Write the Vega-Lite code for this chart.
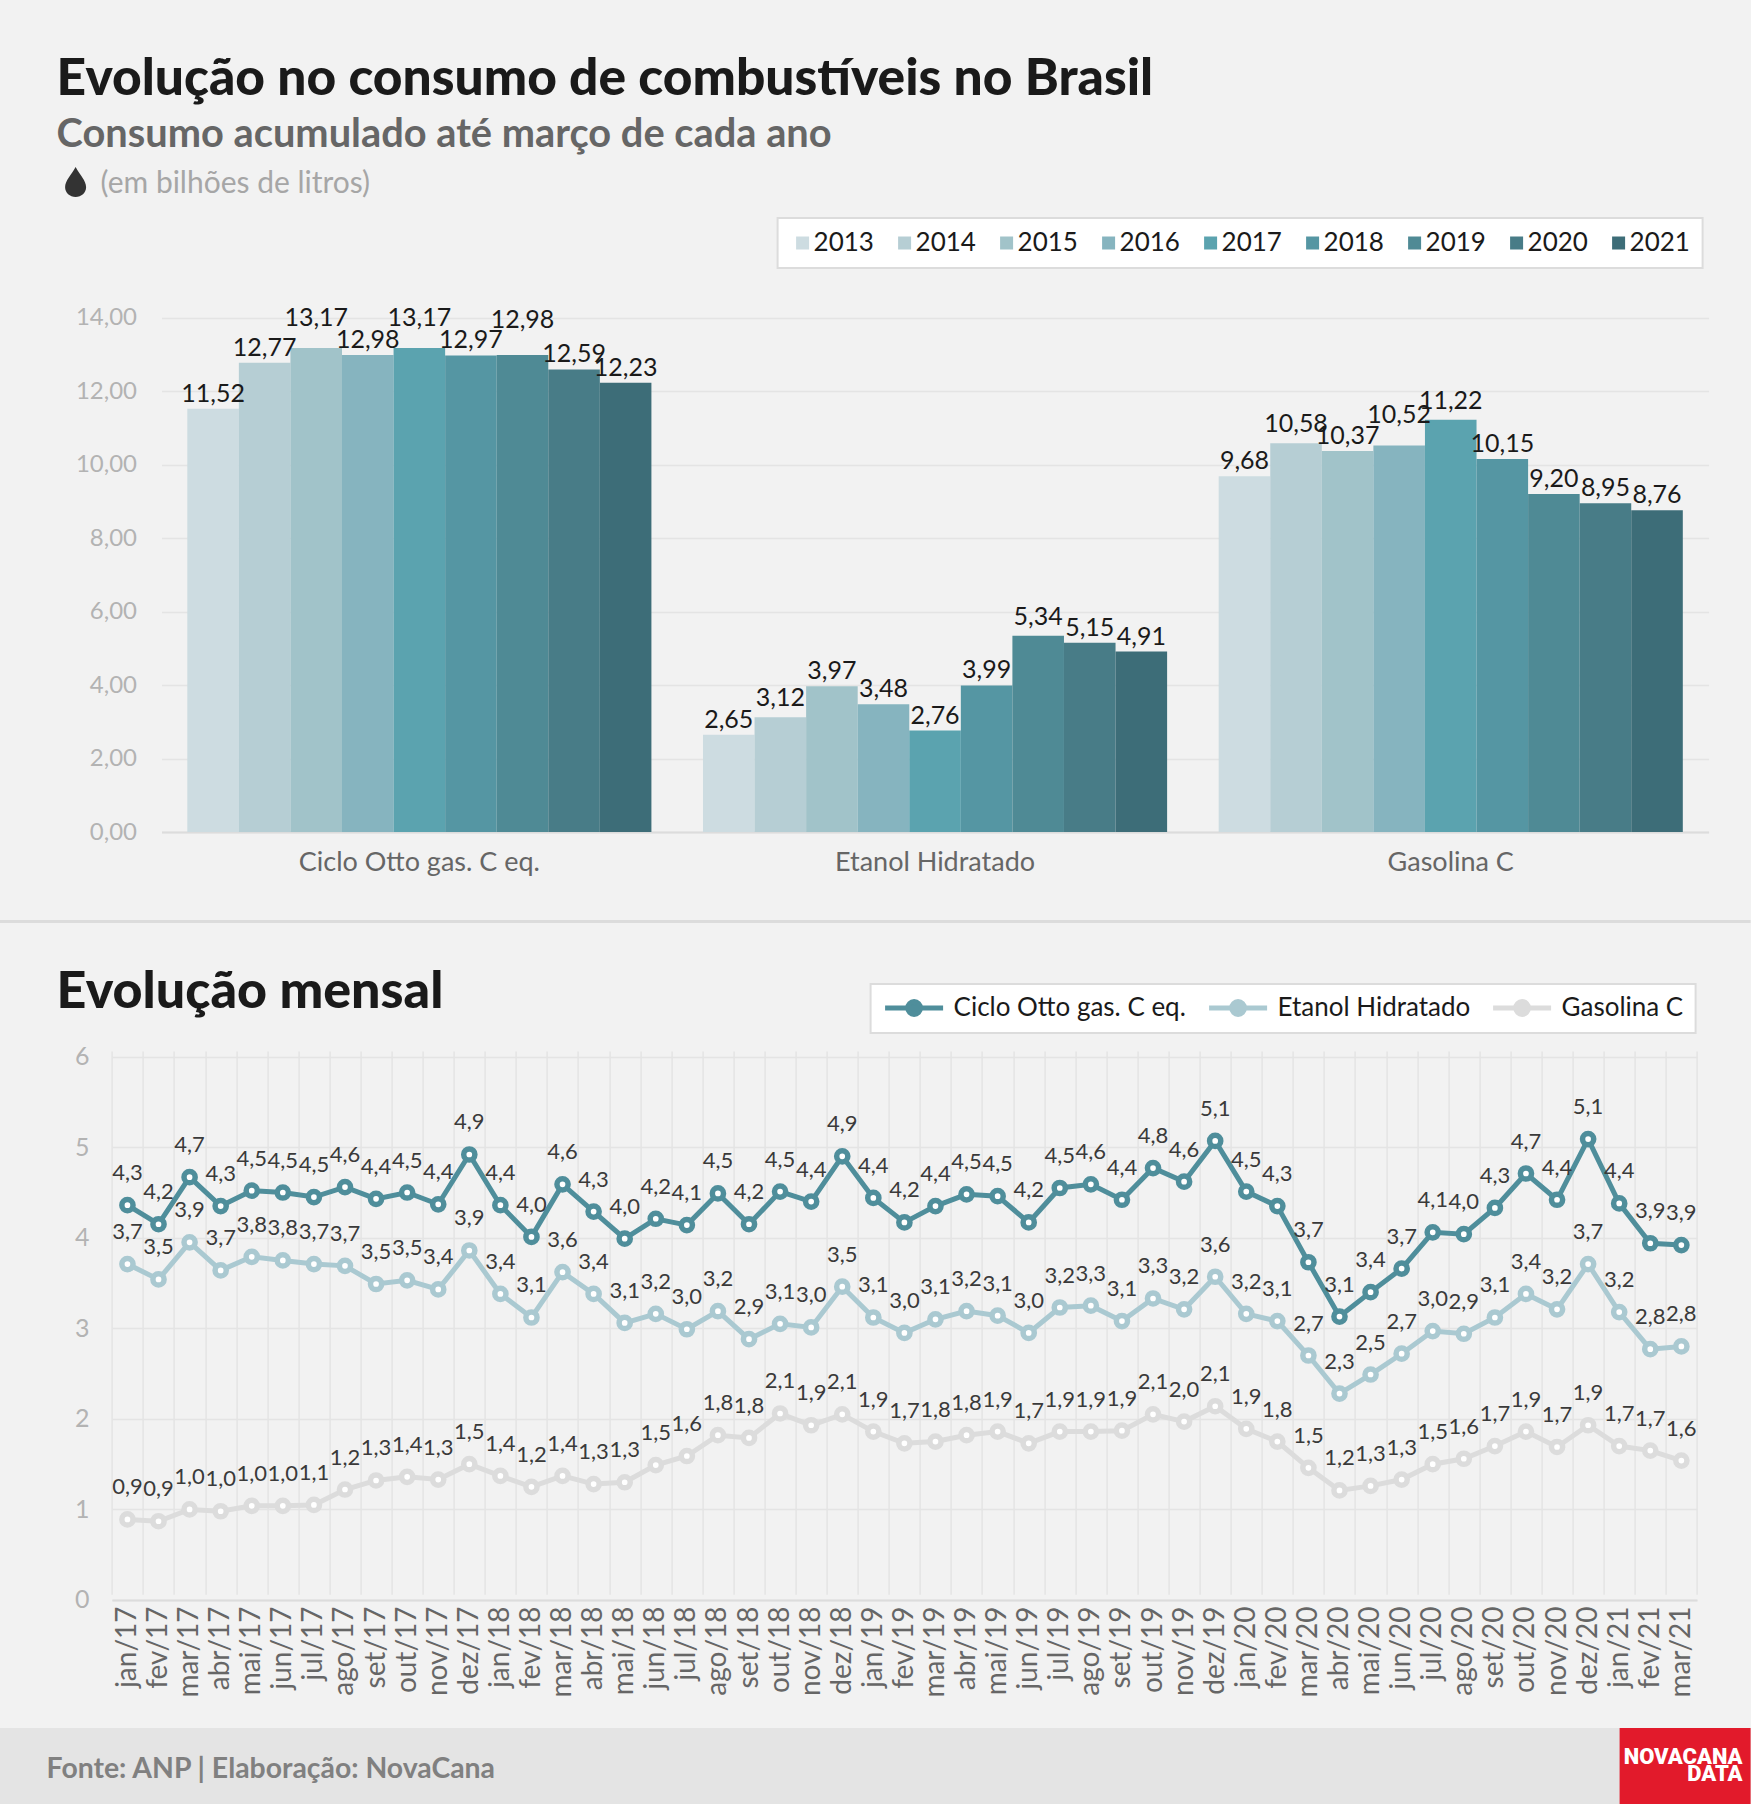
{
  "$schema": "https://vega.github.io/schema/vega-lite/v6.json",
  "description": "Evolução no consumo de combustíveis no Brasil",
  "background": "#f2f2f2",
  "padding": {"left": -14.4, "top": 0, "right": 0, "bottom": 0},
  "spacing": 0,
  "bounds": "flush",
  "config": {
    "font": "Lato",
    "view": {"stroke": null},
    "axis": {"labelFont": "Lato", "titleFont": "Lato", "minExtent": 0, "labelLimit": 500},
    "legend": {"labelFont": "Lato", "strokeWidth": 2, "labelLimit": 400}
  },
  "resolve": {"scale": {"color": "independent"}},
  "vconcat": [
    {
      "width": 1751,
      "height": 205,
      "title": {
        "text": "Evolução no consumo de combustíveis no Brasil",
        "subtitle": "Consumo acumulado até março de cada ano",
        "anchor": "start",
        "frame": "group",
        "offset": 0,
        "dx": 57,
        "dy": 155,
        "font": "Lato",
        "fontSize": 51.5,
        "fontWeight": 900,
        "color": "#1a1a1a",
        "subtitleFont": "Lato",
        "subtitleFontSize": 39.8,
        "subtitleFontWeight": 700,
        "subtitleColor": "#666666",
        "subtitlePadding": 11
      },
      "layer": [
        {
          "data": {"values": [{"item": "gota"}]},
          "mark": {
            "type": "point",
            "shape": "M0,-1C0.3,-0.45,0.7,-0.1,0.7,0.35A0.7,0.65,0,1,1,-0.7,0.35C-0.7,-0.1,-0.3,-0.45,0,-1Z",
            "filled": true,
            "size": 900,
            "opacity": 1,
            "color": "#333333"
          },
          "encoding": {
            "x": {"field": "item", "type": "nominal", "axis": null, "scale": {"type": "point", "domain": ["gota"], "range": [76, 76]}},
            "y": {"field": "item", "type": "nominal", "axis": null, "scale": {"type": "point", "domain": ["gota"], "range": [182, 182]}}
          }
        },
        {
          "data": {"values": [{"nota": "(em bilhões de litros)"}]},
          "mark": {"type": "text", "align": "left", "baseline": "middle", "fontSize": 30, "color": "#a6a6a6", "font": "Lato"},
          "encoding": {
            "text": {"field": "nota"},
            "x": {"field": "nota", "type": "nominal", "axis": null, "scale": {"type": "point", "range": [101, 101]}},
            "y": {"field": "nota", "type": "nominal", "axis": null, "scale": {"type": "point", "range": [184, 184]}}
          }
        }
      ],
      "resolve": {"scale": {"x": "independent", "y": "independent"}}
    },
    {
      "width": 1751,
      "height": 715,
      "data": {"values": [
        {"produto": "Ciclo Otto gas. C eq.", "ano": "2013", "valor": 11.52, "rotulo": "11,52"},
        {"produto": "Ciclo Otto gas. C eq.", "ano": "2014", "valor": 12.77, "rotulo": "12,77"},
        {"produto": "Ciclo Otto gas. C eq.", "ano": "2015", "valor": 13.17, "rotulo": "13,17"},
        {"produto": "Ciclo Otto gas. C eq.", "ano": "2016", "valor": 12.98, "rotulo": "12,98"},
        {"produto": "Ciclo Otto gas. C eq.", "ano": "2017", "valor": 13.17, "rotulo": "13,17"},
        {"produto": "Ciclo Otto gas. C eq.", "ano": "2018", "valor": 12.97, "rotulo": "12,97"},
        {"produto": "Ciclo Otto gas. C eq.", "ano": "2019", "valor": 12.98, "rotulo": "12,98"},
        {"produto": "Ciclo Otto gas. C eq.", "ano": "2020", "valor": 12.59, "rotulo": "12,59"},
        {"produto": "Ciclo Otto gas. C eq.", "ano": "2021", "valor": 12.23, "rotulo": "12,23"},
        {"produto": "Etanol Hidratado", "ano": "2013", "valor": 2.65, "rotulo": "2,65"},
        {"produto": "Etanol Hidratado", "ano": "2014", "valor": 3.12, "rotulo": "3,12"},
        {"produto": "Etanol Hidratado", "ano": "2015", "valor": 3.97, "rotulo": "3,97"},
        {"produto": "Etanol Hidratado", "ano": "2016", "valor": 3.48, "rotulo": "3,48"},
        {"produto": "Etanol Hidratado", "ano": "2017", "valor": 2.76, "rotulo": "2,76"},
        {"produto": "Etanol Hidratado", "ano": "2018", "valor": 3.99, "rotulo": "3,99"},
        {"produto": "Etanol Hidratado", "ano": "2019", "valor": 5.34, "rotulo": "5,34"},
        {"produto": "Etanol Hidratado", "ano": "2020", "valor": 5.15, "rotulo": "5,15"},
        {"produto": "Etanol Hidratado", "ano": "2021", "valor": 4.91, "rotulo": "4,91"},
        {"produto": "Gasolina C", "ano": "2013", "valor": 9.68, "rotulo": "9,68"},
        {"produto": "Gasolina C", "ano": "2014", "valor": 10.58, "rotulo": "10,58"},
        {"produto": "Gasolina C", "ano": "2015", "valor": 10.37, "rotulo": "10,37"},
        {"produto": "Gasolina C", "ano": "2016", "valor": 10.52, "rotulo": "10,52"},
        {"produto": "Gasolina C", "ano": "2017", "valor": 11.22, "rotulo": "11,22"},
        {"produto": "Gasolina C", "ano": "2018", "valor": 10.15, "rotulo": "10,15"},
        {"produto": "Gasolina C", "ano": "2019", "valor": 9.20, "rotulo": "9,20"},
        {"produto": "Gasolina C", "ano": "2020", "valor": 8.95, "rotulo": "8,95"},
        {"produto": "Gasolina C", "ano": "2021", "valor": 8.76, "rotulo": "8,76"}
      ]},
      "encoding": {
        "x": {
          "field": "produto",
          "type": "nominal",
          "title": null,
          "scale": {"range": [161.9, 1709], "paddingInner": 0.1, "paddingOuter": 0.05},
          "axis": {
            "offset": -88,
            "labelAngle": 0,
            "labelFontSize": 27,
            "labelColor": "#666666",
            "labelPadding": 17,
            "ticks": false,
            "domainColor": "#dcdcdc",
            "domainWidth": 2,
            "grid": false
          }
        },
        "xOffset": {"field": "ano", "type": "nominal"},
        "y": {
          "field": "valor",
          "type": "quantitative",
          "title": null,
          "scale": {"domain": [0, 14], "nice": false, "range": [627, 112.6]},
          "axis": {
            "offset": -161.9,
            "values": [0, 2, 4, 6, 8, 10, 12, 14],
            "labelExpr": "replace(format(datum.value,'.2f'),'.',',')",
            "labelFontSize": 24,
            "labelColor": "#b3b3b3",
            "labelPadding": 25,
            "ticks": false,
            "domain": false,
            "gridColor": "#e4e4e4",
            "gridWidth": 1.5
          }
        }
      },
      "layer": [
        {
          "mark": {"type": "bar"},
          "encoding": {
            "color": {
              "field": "ano",
              "type": "nominal",
              "scale": {"range": ["#cddce1", "#b6ced4", "#a1c3c9", "#86b4bf", "#5ba3af", "#5596a3", "#4f8a95", "#487c87", "#3d6d78"]},
              "legend": {
                "title": null,
                "orient": "none",
                "legendX": 778,
                "legendY": 13,
                "direction": "horizontal",
                "columns": 9,
                "fillColor": "#ffffff",
                "strokeColor": "#dcdcdc",
                "padding": 12,
                "symbolType": "square",
                "symbolSize": 169,
                "symbolStrokeWidth": 0,
                "labelFontSize": 26,
                "labelColor": "#1a1a1a",
                "labelOffset": -2,
                "columnPadding": 17
              }
            }
          }
        },
        {
          "transform": [{"filter": "indexof(['13,17','10,52','10,58','11,22','3,12','5,34'], datum.rotulo) < 0 && !(datum.rotulo == '12,98' && datum.ano == '2019')"}],
          "mark": {"type": "text", "baseline": "alphabetic", "dy": -7, "fontSize": 25, "color": "#1a1a1a"},
          "encoding": {"text": {"field": "rotulo"}}
        },
        {
          "transform": [{"filter": "indexof(['10,58','11,22','3,12','5,34'], datum.rotulo) >= 0"}],
          "mark": {"type": "text", "baseline": "alphabetic", "dy": -11, "fontSize": 25, "color": "#1a1a1a"},
          "encoding": {"text": {"field": "rotulo"}}
        },
        {
          "transform": [{"filter": "indexof(['13,17','10,52'], datum.rotulo) >= 0"}],
          "mark": {"type": "text", "baseline": "alphabetic", "dy": -22, "fontSize": 25, "color": "#1a1a1a"},
          "encoding": {"text": {"field": "rotulo"}}
        },
        {
          "transform": [{"filter": "datum.rotulo == '12,98' && datum.ano == '2019'"}],
          "mark": {"type": "text", "baseline": "alphabetic", "dy": -27, "fontSize": 25, "color": "#1a1a1a"},
          "encoding": {"text": {"field": "rotulo"}}
        }
      ]
    },
    {
      "width": 1751,
      "height": 3,
      "data": {"values": [{"item": "separador"}]},
      "mark": {"type": "rect", "color": "#dcdcdc"}
    },
    {
      "width": 1751,
      "height": 805,
      "title": {
        "text": "Evolução mensal",
        "anchor": "start",
        "frame": "group",
        "offset": 0,
        "dx": 57,
        "dy": 96,
        "font": "Lato",
        "fontSize": 52,
        "fontWeight": 900,
        "color": "#1a1a1a"
      },
      "data": {"values": [
        {"mes": "jan/17", "serie": "Ciclo Otto gas. C eq.", "valor": 4.36, "rotulo": "4,3"},
        {"mes": "fev/17", "serie": "Ciclo Otto gas. C eq.", "valor": 4.15, "rotulo": "4,2"},
        {"mes": "mar/17", "serie": "Ciclo Otto gas. C eq.", "valor": 4.67, "rotulo": "4,7"},
        {"mes": "abr/17", "serie": "Ciclo Otto gas. C eq.", "valor": 4.35, "rotulo": "4,3"},
        {"mes": "mai/17", "serie": "Ciclo Otto gas. C eq.", "valor": 4.52, "rotulo": "4,5"},
        {"mes": "jun/17", "serie": "Ciclo Otto gas. C eq.", "valor": 4.50, "rotulo": "4,5"},
        {"mes": "jul/17", "serie": "Ciclo Otto gas. C eq.", "valor": 4.45, "rotulo": "4,5"},
        {"mes": "ago/17", "serie": "Ciclo Otto gas. C eq.", "valor": 4.56, "rotulo": "4,6"},
        {"mes": "set/17", "serie": "Ciclo Otto gas. C eq.", "valor": 4.43, "rotulo": "4,4"},
        {"mes": "out/17", "serie": "Ciclo Otto gas. C eq.", "valor": 4.50, "rotulo": "4,5"},
        {"mes": "nov/17", "serie": "Ciclo Otto gas. C eq.", "valor": 4.37, "rotulo": "4,4"},
        {"mes": "dez/17", "serie": "Ciclo Otto gas. C eq.", "valor": 4.92, "rotulo": "4,9"},
        {"mes": "jan/18", "serie": "Ciclo Otto gas. C eq.", "valor": 4.36, "rotulo": "4,4"},
        {"mes": "fev/18", "serie": "Ciclo Otto gas. C eq.", "valor": 4.01, "rotulo": "4,0"},
        {"mes": "mar/18", "serie": "Ciclo Otto gas. C eq.", "valor": 4.59, "rotulo": "4,6"},
        {"mes": "abr/18", "serie": "Ciclo Otto gas. C eq.", "valor": 4.29, "rotulo": "4,3"},
        {"mes": "mai/18", "serie": "Ciclo Otto gas. C eq.", "valor": 3.99, "rotulo": "4,0"},
        {"mes": "jun/18", "serie": "Ciclo Otto gas. C eq.", "valor": 4.21, "rotulo": "4,2"},
        {"mes": "jul/18", "serie": "Ciclo Otto gas. C eq.", "valor": 4.14, "rotulo": "4,1"},
        {"mes": "ago/18", "serie": "Ciclo Otto gas. C eq.", "valor": 4.49, "rotulo": "4,5"},
        {"mes": "set/18", "serie": "Ciclo Otto gas. C eq.", "valor": 4.15, "rotulo": "4,2"},
        {"mes": "out/18", "serie": "Ciclo Otto gas. C eq.", "valor": 4.51, "rotulo": "4,5"},
        {"mes": "nov/18", "serie": "Ciclo Otto gas. C eq.", "valor": 4.40, "rotulo": "4,4"},
        {"mes": "dez/18", "serie": "Ciclo Otto gas. C eq.", "valor": 4.90, "rotulo": "4,9"},
        {"mes": "jan/19", "serie": "Ciclo Otto gas. C eq.", "valor": 4.44, "rotulo": "4,4"},
        {"mes": "fev/19", "serie": "Ciclo Otto gas. C eq.", "valor": 4.17, "rotulo": "4,2"},
        {"mes": "mar/19", "serie": "Ciclo Otto gas. C eq.", "valor": 4.35, "rotulo": "4,4"},
        {"mes": "abr/19", "serie": "Ciclo Otto gas. C eq.", "valor": 4.48, "rotulo": "4,5"},
        {"mes": "mai/19", "serie": "Ciclo Otto gas. C eq.", "valor": 4.46, "rotulo": "4,5"},
        {"mes": "jun/19", "serie": "Ciclo Otto gas. C eq.", "valor": 4.17, "rotulo": "4,2"},
        {"mes": "jul/19", "serie": "Ciclo Otto gas. C eq.", "valor": 4.55, "rotulo": "4,5"},
        {"mes": "ago/19", "serie": "Ciclo Otto gas. C eq.", "valor": 4.59, "rotulo": "4,6"},
        {"mes": "set/19", "serie": "Ciclo Otto gas. C eq.", "valor": 4.42, "rotulo": "4,4"},
        {"mes": "out/19", "serie": "Ciclo Otto gas. C eq.", "valor": 4.77, "rotulo": "4,8"},
        {"mes": "nov/19", "serie": "Ciclo Otto gas. C eq.", "valor": 4.62, "rotulo": "4,6"},
        {"mes": "dez/19", "serie": "Ciclo Otto gas. C eq.", "valor": 5.07, "rotulo": "5,1"},
        {"mes": "jan/20", "serie": "Ciclo Otto gas. C eq.", "valor": 4.51, "rotulo": "4,5"},
        {"mes": "fev/20", "serie": "Ciclo Otto gas. C eq.", "valor": 4.35, "rotulo": "4,3"},
        {"mes": "mar/20", "serie": "Ciclo Otto gas. C eq.", "valor": 3.73, "rotulo": "3,7"},
        {"mes": "abr/20", "serie": "Ciclo Otto gas. C eq.", "valor": 3.13, "rotulo": "3,1"},
        {"mes": "mai/20", "serie": "Ciclo Otto gas. C eq.", "valor": 3.40, "rotulo": "3,4"},
        {"mes": "jun/20", "serie": "Ciclo Otto gas. C eq.", "valor": 3.66, "rotulo": "3,7"},
        {"mes": "jul/20", "serie": "Ciclo Otto gas. C eq.", "valor": 4.06, "rotulo": "4,1"},
        {"mes": "ago/20", "serie": "Ciclo Otto gas. C eq.", "valor": 4.04, "rotulo": "4,0"},
        {"mes": "set/20", "serie": "Ciclo Otto gas. C eq.", "valor": 4.33, "rotulo": "4,3"},
        {"mes": "out/20", "serie": "Ciclo Otto gas. C eq.", "valor": 4.71, "rotulo": "4,7"},
        {"mes": "nov/20", "serie": "Ciclo Otto gas. C eq.", "valor": 4.42, "rotulo": "4,4"},
        {"mes": "dez/20", "serie": "Ciclo Otto gas. C eq.", "valor": 5.09, "rotulo": "5,1"},
        {"mes": "jan/21", "serie": "Ciclo Otto gas. C eq.", "valor": 4.38, "rotulo": "4,4"},
        {"mes": "fev/21", "serie": "Ciclo Otto gas. C eq.", "valor": 3.94, "rotulo": "3,9"},
        {"mes": "mar/21", "serie": "Ciclo Otto gas. C eq.", "valor": 3.92, "rotulo": "3,9"},
        {"mes": "jan/17", "serie": "Etanol Hidratado", "valor": 3.71, "rotulo": "3,7"},
        {"mes": "fev/17", "serie": "Etanol Hidratado", "valor": 3.54, "rotulo": "3,5"},
        {"mes": "mar/17", "serie": "Etanol Hidratado", "valor": 3.95, "rotulo": "3,9"},
        {"mes": "abr/17", "serie": "Etanol Hidratado", "valor": 3.64, "rotulo": "3,7"},
        {"mes": "mai/17", "serie": "Etanol Hidratado", "valor": 3.79, "rotulo": "3,8"},
        {"mes": "jun/17", "serie": "Etanol Hidratado", "valor": 3.75, "rotulo": "3,8"},
        {"mes": "jul/17", "serie": "Etanol Hidratado", "valor": 3.71, "rotulo": "3,7"},
        {"mes": "ago/17", "serie": "Etanol Hidratado", "valor": 3.69, "rotulo": "3,7"},
        {"mes": "set/17", "serie": "Etanol Hidratado", "valor": 3.49, "rotulo": "3,5"},
        {"mes": "out/17", "serie": "Etanol Hidratado", "valor": 3.53, "rotulo": "3,5"},
        {"mes": "nov/17", "serie": "Etanol Hidratado", "valor": 3.43, "rotulo": "3,4"},
        {"mes": "dez/17", "serie": "Etanol Hidratado", "valor": 3.86, "rotulo": "3,9"},
        {"mes": "jan/18", "serie": "Etanol Hidratado", "valor": 3.38, "rotulo": "3,4"},
        {"mes": "fev/18", "serie": "Etanol Hidratado", "valor": 3.12, "rotulo": "3,1"},
        {"mes": "mar/18", "serie": "Etanol Hidratado", "valor": 3.62, "rotulo": "3,6"},
        {"mes": "abr/18", "serie": "Etanol Hidratado", "valor": 3.38, "rotulo": "3,4"},
        {"mes": "mai/18", "serie": "Etanol Hidratado", "valor": 3.06, "rotulo": "3,1"},
        {"mes": "jun/18", "serie": "Etanol Hidratado", "valor": 3.16, "rotulo": "3,2"},
        {"mes": "jul/18", "serie": "Etanol Hidratado", "valor": 2.99, "rotulo": "3,0"},
        {"mes": "ago/18", "serie": "Etanol Hidratado", "valor": 3.19, "rotulo": "3,2"},
        {"mes": "set/18", "serie": "Etanol Hidratado", "valor": 2.88, "rotulo": "2,9"},
        {"mes": "out/18", "serie": "Etanol Hidratado", "valor": 3.05, "rotulo": "3,1"},
        {"mes": "nov/18", "serie": "Etanol Hidratado", "valor": 3.01, "rotulo": "3,0"},
        {"mes": "dez/18", "serie": "Etanol Hidratado", "valor": 3.46, "rotulo": "3,5"},
        {"mes": "jan/19", "serie": "Etanol Hidratado", "valor": 3.12, "rotulo": "3,1"},
        {"mes": "fev/19", "serie": "Etanol Hidratado", "valor": 2.95, "rotulo": "3,0"},
        {"mes": "mar/19", "serie": "Etanol Hidratado", "valor": 3.10, "rotulo": "3,1"},
        {"mes": "abr/19", "serie": "Etanol Hidratado", "valor": 3.19, "rotulo": "3,2"},
        {"mes": "mai/19", "serie": "Etanol Hidratado", "valor": 3.14, "rotulo": "3,1"},
        {"mes": "jun/19", "serie": "Etanol Hidratado", "valor": 2.95, "rotulo": "3,0"},
        {"mes": "jul/19", "serie": "Etanol Hidratado", "valor": 3.23, "rotulo": "3,2"},
        {"mes": "ago/19", "serie": "Etanol Hidratado", "valor": 3.25, "rotulo": "3,3"},
        {"mes": "set/19", "serie": "Etanol Hidratado", "valor": 3.08, "rotulo": "3,1"},
        {"mes": "out/19", "serie": "Etanol Hidratado", "valor": 3.33, "rotulo": "3,3"},
        {"mes": "nov/19", "serie": "Etanol Hidratado", "valor": 3.21, "rotulo": "3,2"},
        {"mes": "dez/19", "serie": "Etanol Hidratado", "valor": 3.57, "rotulo": "3,6"},
        {"mes": "jan/20", "serie": "Etanol Hidratado", "valor": 3.16, "rotulo": "3,2"},
        {"mes": "fev/20", "serie": "Etanol Hidratado", "valor": 3.08, "rotulo": "3,1"},
        {"mes": "mar/20", "serie": "Etanol Hidratado", "valor": 2.70, "rotulo": "2,7"},
        {"mes": "abr/20", "serie": "Etanol Hidratado", "valor": 2.28, "rotulo": "2,3"},
        {"mes": "mai/20", "serie": "Etanol Hidratado", "valor": 2.49, "rotulo": "2,5"},
        {"mes": "jun/20", "serie": "Etanol Hidratado", "valor": 2.72, "rotulo": "2,7"},
        {"mes": "jul/20", "serie": "Etanol Hidratado", "valor": 2.97, "rotulo": "3,0"},
        {"mes": "ago/20", "serie": "Etanol Hidratado", "valor": 2.94, "rotulo": "2,9"},
        {"mes": "set/20", "serie": "Etanol Hidratado", "valor": 3.12, "rotulo": "3,1"},
        {"mes": "out/20", "serie": "Etanol Hidratado", "valor": 3.38, "rotulo": "3,4"},
        {"mes": "nov/20", "serie": "Etanol Hidratado", "valor": 3.21, "rotulo": "3,2"},
        {"mes": "dez/20", "serie": "Etanol Hidratado", "valor": 3.71, "rotulo": "3,7"},
        {"mes": "jan/21", "serie": "Etanol Hidratado", "valor": 3.18, "rotulo": "3,2"},
        {"mes": "fev/21", "serie": "Etanol Hidratado", "valor": 2.77, "rotulo": "2,8"},
        {"mes": "mar/21", "serie": "Etanol Hidratado", "valor": 2.80, "rotulo": "2,8"},
        {"mes": "jan/17", "serie": "Gasolina C", "valor": 0.89, "rotulo": "0,9"},
        {"mes": "fev/17", "serie": "Gasolina C", "valor": 0.87, "rotulo": "0,9"},
        {"mes": "mar/17", "serie": "Gasolina C", "valor": 1.00, "rotulo": "1,0"},
        {"mes": "abr/17", "serie": "Gasolina C", "valor": 0.98, "rotulo": "1,0"},
        {"mes": "mai/17", "serie": "Gasolina C", "valor": 1.04, "rotulo": "1,0"},
        {"mes": "jun/17", "serie": "Gasolina C", "valor": 1.04, "rotulo": "1,0"},
        {"mes": "jul/17", "serie": "Gasolina C", "valor": 1.05, "rotulo": "1,1"},
        {"mes": "ago/17", "serie": "Gasolina C", "valor": 1.22, "rotulo": "1,2"},
        {"mes": "set/17", "serie": "Gasolina C", "valor": 1.32, "rotulo": "1,3"},
        {"mes": "out/17", "serie": "Gasolina C", "valor": 1.36, "rotulo": "1,4"},
        {"mes": "nov/17", "serie": "Gasolina C", "valor": 1.33, "rotulo": "1,3"},
        {"mes": "dez/17", "serie": "Gasolina C", "valor": 1.50, "rotulo": "1,5"},
        {"mes": "jan/18", "serie": "Gasolina C", "valor": 1.37, "rotulo": "1,4"},
        {"mes": "fev/18", "serie": "Gasolina C", "valor": 1.25, "rotulo": "1,2"},
        {"mes": "mar/18", "serie": "Gasolina C", "valor": 1.37, "rotulo": "1,4"},
        {"mes": "abr/18", "serie": "Gasolina C", "valor": 1.28, "rotulo": "1,3"},
        {"mes": "mai/18", "serie": "Gasolina C", "valor": 1.30, "rotulo": "1,3"},
        {"mes": "jun/18", "serie": "Gasolina C", "valor": 1.49, "rotulo": "1,5"},
        {"mes": "jul/18", "serie": "Gasolina C", "valor": 1.59, "rotulo": "1,6"},
        {"mes": "ago/18", "serie": "Gasolina C", "valor": 1.82, "rotulo": "1,8"},
        {"mes": "set/18", "serie": "Gasolina C", "valor": 1.79, "rotulo": "1,8"},
        {"mes": "out/18", "serie": "Gasolina C", "valor": 2.06, "rotulo": "2,1"},
        {"mes": "nov/18", "serie": "Gasolina C", "valor": 1.93, "rotulo": "1,9"},
        {"mes": "dez/18", "serie": "Gasolina C", "valor": 2.05, "rotulo": "2,1"},
        {"mes": "jan/19", "serie": "Gasolina C", "valor": 1.86, "rotulo": "1,9"},
        {"mes": "fev/19", "serie": "Gasolina C", "valor": 1.73, "rotulo": "1,7"},
        {"mes": "mar/19", "serie": "Gasolina C", "valor": 1.75, "rotulo": "1,8"},
        {"mes": "abr/19", "serie": "Gasolina C", "valor": 1.82, "rotulo": "1,8"},
        {"mes": "mai/19", "serie": "Gasolina C", "valor": 1.86, "rotulo": "1,9"},
        {"mes": "jun/19", "serie": "Gasolina C", "valor": 1.73, "rotulo": "1,7"},
        {"mes": "jul/19", "serie": "Gasolina C", "valor": 1.86, "rotulo": "1,9"},
        {"mes": "ago/19", "serie": "Gasolina C", "valor": 1.86, "rotulo": "1,9"},
        {"mes": "set/19", "serie": "Gasolina C", "valor": 1.87, "rotulo": "1,9"},
        {"mes": "out/19", "serie": "Gasolina C", "valor": 2.05, "rotulo": "2,1"},
        {"mes": "nov/19", "serie": "Gasolina C", "valor": 1.97, "rotulo": "2,0"},
        {"mes": "dez/19", "serie": "Gasolina C", "valor": 2.14, "rotulo": "2,1"},
        {"mes": "jan/20", "serie": "Gasolina C", "valor": 1.89, "rotulo": "1,9"},
        {"mes": "fev/20", "serie": "Gasolina C", "valor": 1.75, "rotulo": "1,8"},
        {"mes": "mar/20", "serie": "Gasolina C", "valor": 1.46, "rotulo": "1,5"},
        {"mes": "abr/20", "serie": "Gasolina C", "valor": 1.21, "rotulo": "1,2"},
        {"mes": "mai/20", "serie": "Gasolina C", "valor": 1.26, "rotulo": "1,3"},
        {"mes": "jun/20", "serie": "Gasolina C", "valor": 1.33, "rotulo": "1,3"},
        {"mes": "jul/20", "serie": "Gasolina C", "valor": 1.50, "rotulo": "1,5"},
        {"mes": "ago/20", "serie": "Gasolina C", "valor": 1.56, "rotulo": "1,6"},
        {"mes": "set/20", "serie": "Gasolina C", "valor": 1.70, "rotulo": "1,7"},
        {"mes": "out/20", "serie": "Gasolina C", "valor": 1.86, "rotulo": "1,9"},
        {"mes": "nov/20", "serie": "Gasolina C", "valor": 1.69, "rotulo": "1,7"},
        {"mes": "dez/20", "serie": "Gasolina C", "valor": 1.93, "rotulo": "1,9"},
        {"mes": "jan/21", "serie": "Gasolina C", "valor": 1.70, "rotulo": "1,7"},
        {"mes": "fev/21", "serie": "Gasolina C", "valor": 1.65, "rotulo": "1,7"},
        {"mes": "mar/21", "serie": "Gasolina C", "valor": 1.54, "rotulo": "1,6"}
      ]},
      "encoding": {
        "x": {
          "field": "mes",
          "type": "nominal",
          "sort": null,
          "title": null,
          "scale": {"range": [112.3, 1697.3], "padding": 0},
          "axis": {
            "offset": -128,
            "labelAngle": -90,
            "labelFontSize": 28,
            "labelColor": "#666666",
            "labelPadding": 6,
            "ticks": false,
            "tickBand": "extent",
            "grid": true,
            "gridColor": "#e4e4e4",
            "gridWidth": 1.5,
            "domainColor": "#dcdcdc",
            "domainWidth": 2,
            "labelOverlap": false
          }
        },
        "y": {
          "field": "valor",
          "type": "quantitative",
          "title": null,
          "scale": {"domain": [0, 6], "nice": false, "range": [677, 133.7]},
          "axis": {
            "offset": -112.3,
            "values": [0, 1, 2, 3, 4, 5, 6],
            "labelFontSize": 25,
            "labelColor": "#b3b3b3",
            "labelPadding": 23,
            "ticks": false,
            "domain": false,
            "gridColor": "#e4e4e4",
            "gridWidth": 1.5
          }
        },
        "color": {
          "field": "serie",
          "type": "nominal",
          "sort": null,
          "scale": {"range": ["#4f8e9b", "#aac9d1", "#dcdcdc"]},
          "legend": {
            "title": null,
            "orient": "none",
            "legendX": 871,
            "legendY": 61,
            "direction": "horizontal",
            "columns": 3,
            "fillColor": "#ffffff",
            "strokeColor": "#dcdcdc",
            "padding": 12,
            "clipHeight": 24,
            "symbolType": "M-1,0L1,0M0.22,0A0.22,0.22,0,1,1,-0.22,0A0.22,0.22,0,1,1,0.22,0",
            "symbolSize": 3364,
            "symbolStrokeWidth": 5,
            "labelFontSize": 26,
            "labelColor": "#1a1a1a",
            "labelOffset": 8,
            "columnPadding": 20,
            "encode": {"symbols": {"update": {"fill": {"signal": "datum.value == 'Gasolina C' ? '#dcdcdc' : datum.value == 'Etanol Hidratado' ? '#aac9d1' : '#4f8e9b'"}, "fillOpacity": {"value": 1}}}}
          }
        }
      },
      "layer": [
        {"mark": {"type": "line", "strokeWidth": 5}},
        {"mark": {"type": "point", "filled": false, "fill": "#ffffff", "fillOpacity": 1, "opacity": 1, "strokeWidth": 5.5, "size": 125}},
        {
          "mark": {"type": "text", "baseline": "middle", "dy": -32, "fontSize": 22, "color": "#3a3a3a"},
          "encoding": {"text": {"field": "rotulo"}, "color": {"value": "#3a3a3a"}}
        }
      ]
    },
    {
      "width": 1751,
      "height": 76,
      "layer": [
        {
          "data": {"values": [{"item": "faixa"}]},
          "mark": {"type": "rect", "color": "#e4e4e4"}
        },
        {
          "data": {"values": [{"fonte": "Fonte: ANP | Elaboração: NovaCana"}]},
          "mark": {"type": "text", "align": "left", "baseline": "middle", "fontSize": 28.4, "fontWeight": 700, "color": "#808080", "font": "Lato"},
          "encoding": {
            "text": {"field": "fonte"},
            "x": {"field": "fonte", "type": "nominal", "axis": null, "scale": {"type": "point", "range": [47, 47]}},
            "y": {"field": "fonte", "type": "nominal", "axis": null, "scale": {"type": "point", "range": [41, 41]}}
          }
        },
        {
          "data": {"values": [{"marca": "logo"}]},
          "mark": {"type": "rect", "color": "#e21a2b"},
          "encoding": {
            "x": {"field": "marca", "type": "nominal", "axis": null, "scale": {"type": "band", "range": [1620, 1751], "padding": 0}},
            "y": {"field": "marca", "type": "nominal", "axis": null, "scale": {"type": "band", "range": [0, 76], "padding": 0}}
          }
        },
        {
          "data": {"values": [{"marca": "logo", "texto": "NOVACANA"}, {"marca": "logo", "texto": "DATA"}]},
          "mark": {"type": "text", "align": "right", "baseline": "middle", "fontSize": 22, "fontWeight": 900, "color": "#ffffff", "font": "Roboto"},
          "encoding": {
            "text": {"field": "texto"},
            "x": {"field": "marca", "type": "nominal", "axis": null, "scale": {"type": "point", "range": [1743, 1743]}},
            "y": {"field": "texto", "type": "nominal", "axis": null, "sort": null, "scale": {"type": "point", "range": [21, 54]}}
          }
        }
      ],
      "resolve": {"scale": {"x": "independent", "y": "independent"}}
    }
  ]
}
